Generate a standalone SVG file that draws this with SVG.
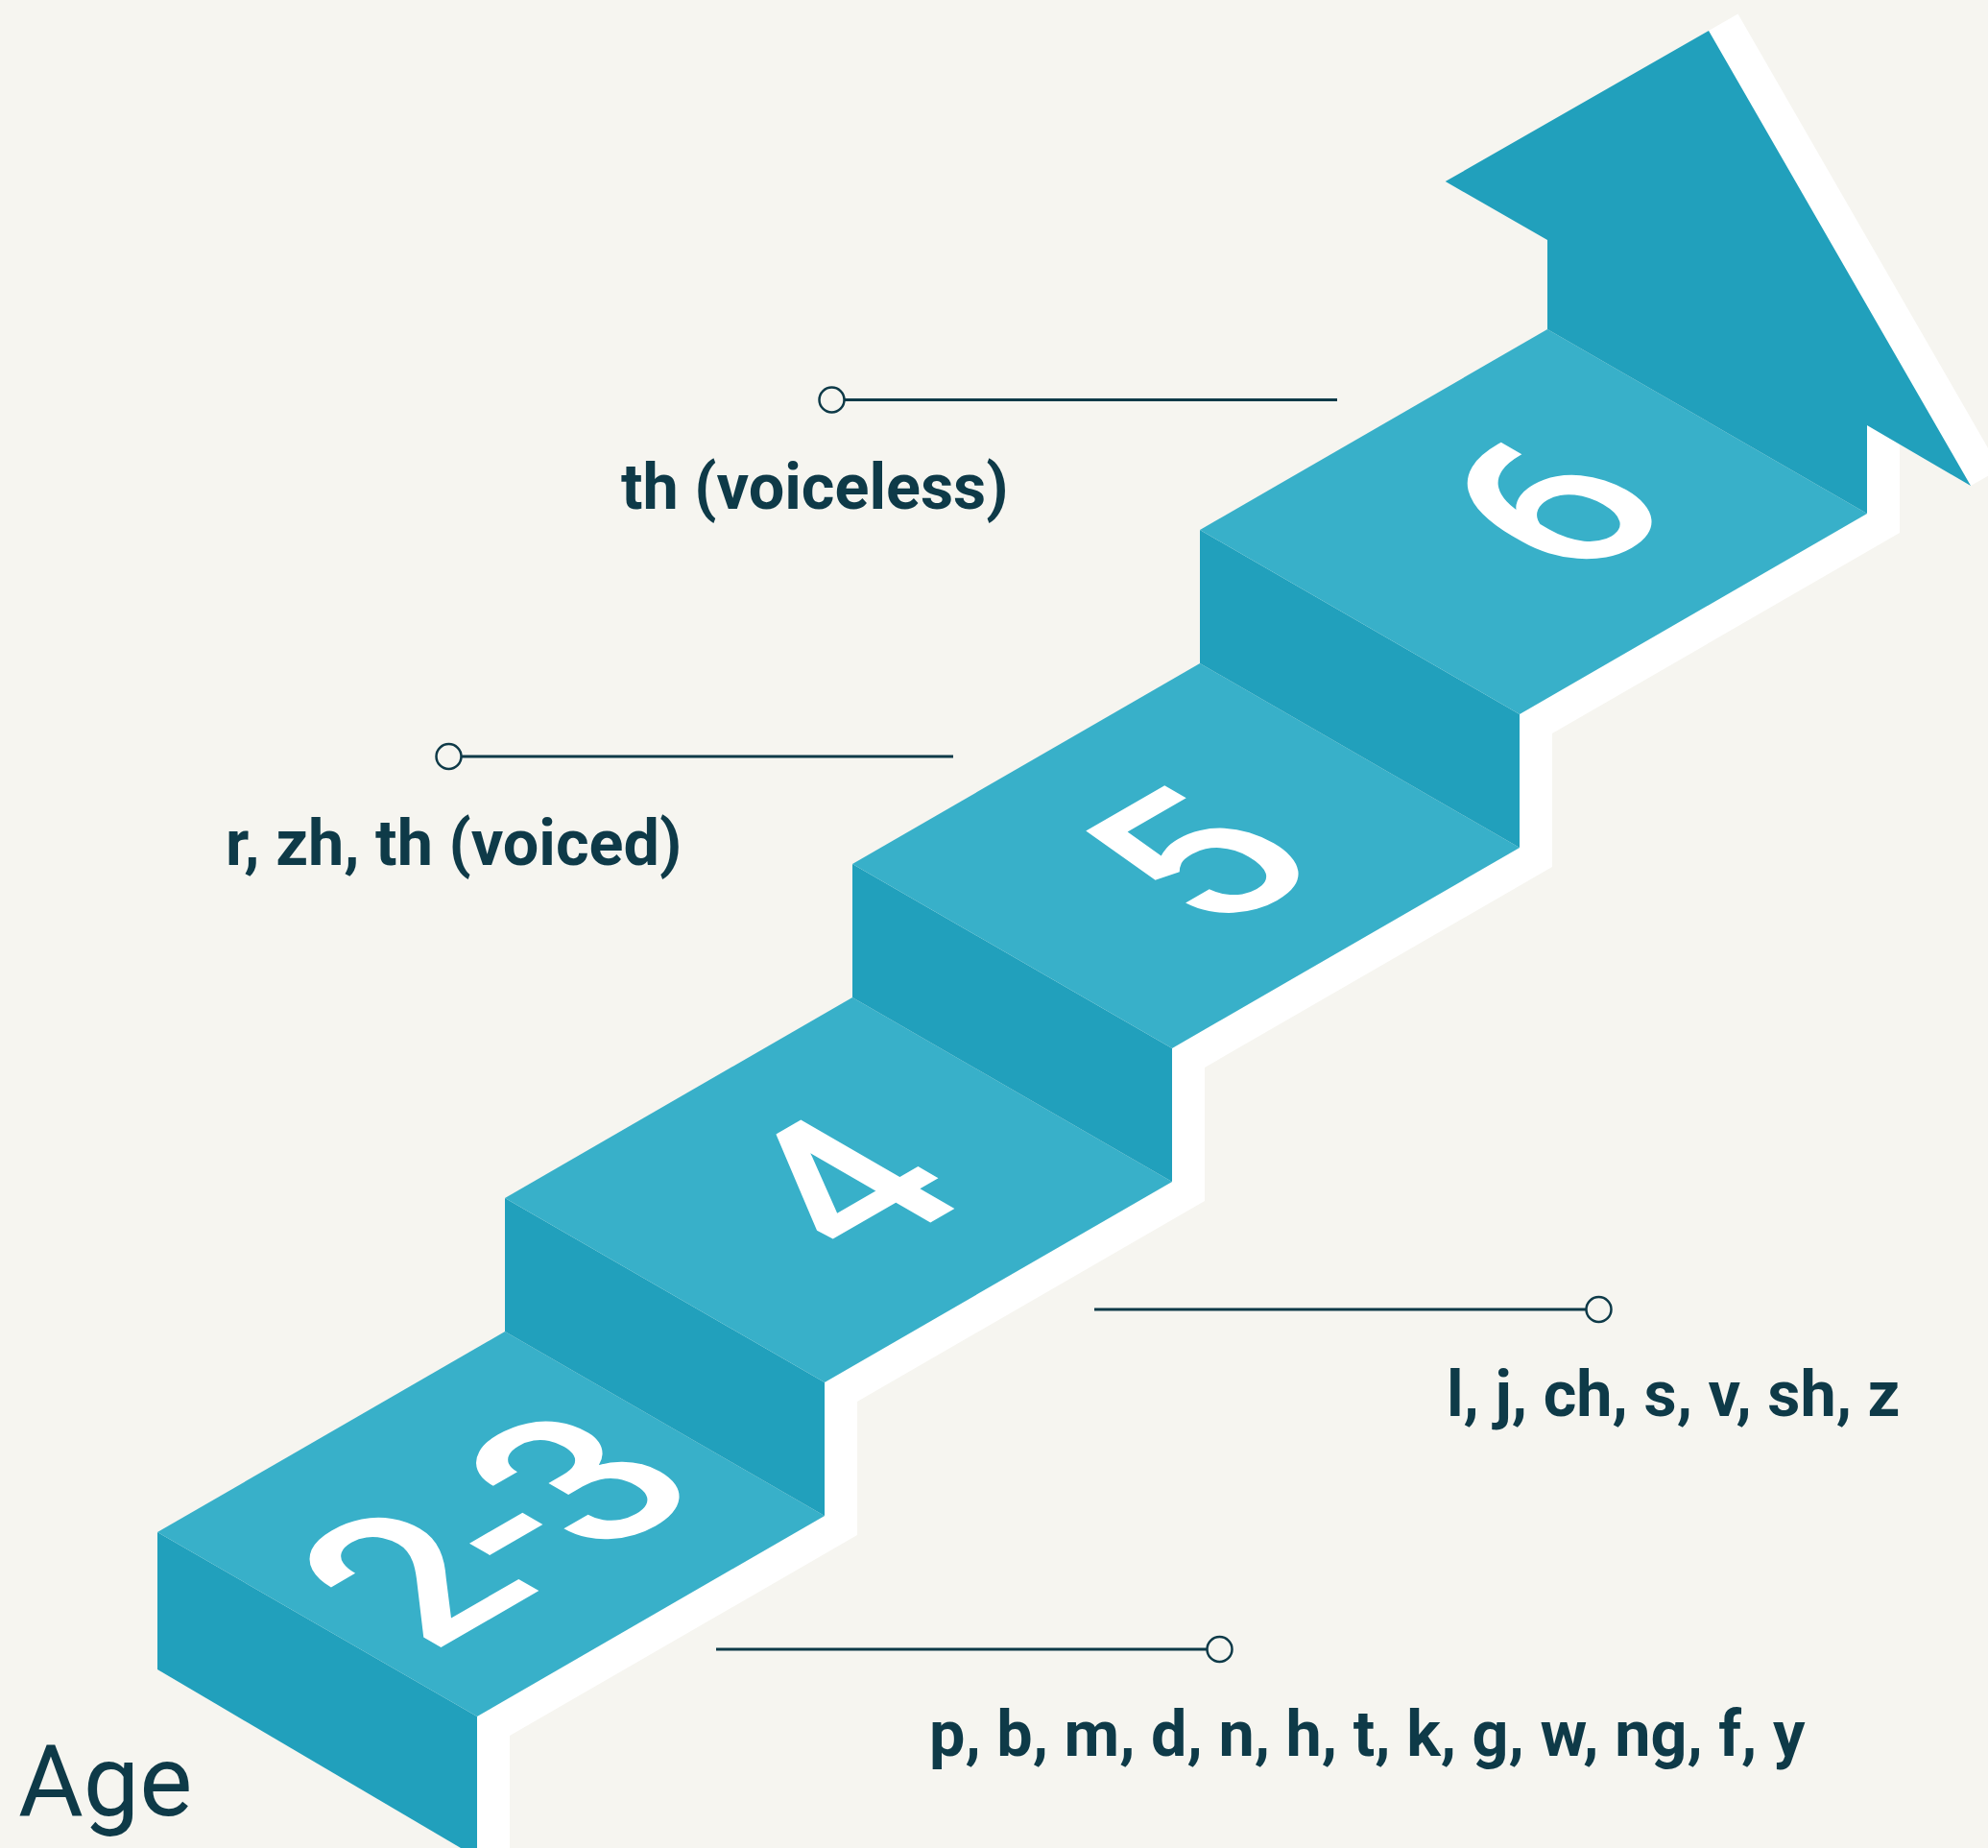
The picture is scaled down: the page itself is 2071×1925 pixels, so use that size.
<svg xmlns="http://www.w3.org/2000/svg" width="2071" height="1925" viewBox="0 0 2071 1925">
  <style>
    .top { fill: #38B0C9; }
    .riser { fill: #21A0BC; }
    .band { fill: #FFFFFF; }
    .num { fill: #FFFFFF; font-family: Roboto, "Liberation Sans", sans-serif; font-weight: 500; font-size: 260px; text-anchor: middle; }
    .label { fill: #0E3A48; font-family: Roboto, "Liberation Sans", sans-serif; font-weight: 700; font-size: 66.5px; }
    .age { fill: #0E3A48; font-family: Roboto, "Liberation Sans", sans-serif; font-weight: 400; font-size: 104px; }
    .lead { stroke: #0E3A48; stroke-width: 3; fill: none; }
    .dot { stroke: #0E3A48; stroke-width: 2.5; fill: #F6F5F0; }
  </style>
  <rect x="0" y="0" width="2071" height="1925" fill="#F6F5F0"/>

  <g id="side-band">
    <polygon class="band" points="497,1935 497,1788 859,1579 859,1440 1221,1231 1221,1092 1583,883 1583,744 1945,535 1945,443 1979,463 1979,555 1617,764 1617,903 1255,1112 1255,1251 893,1460 893,1599 531,1808 531,1955"/>
    <polygon class="band" points="1780,32 1810.5,14.5 2083.5,488.5 2053,506"/>
  </g>

  <g id="step-2-3">
    <polygon class="riser" points="164,1596 497,1788 497,1935 164,1739"/>
    <polygon class="top" points="164,1596 526,1387 859,1579 497,1788"/>
    <text class="num" letter-spacing="-12" transform="matrix(0.823,-0.475,0.866,0.5,591,1640)">2-3</text>
  </g>

  <g id="step-4">
    <polygon class="riser" points="526,1248 859,1440 859,1579 526,1387"/>
    <polygon class="top" points="526,1248 888,1039 1221,1231 859,1440"/>
    <text class="num" transform="matrix(0.823,-0.475,0.866,0.5,958,1280)">4</text>
  </g>

  <g id="step-5">
    <polygon class="riser" points="888,900 1221,1092 1221,1231 888,1039"/>
    <polygon class="top" points="888,900 1250,691 1583,883 1221,1092"/>
    <text class="num" transform="matrix(0.823,-0.475,0.866,0.5,1326,938)">5</text>
  </g>

  <g id="step-6">
    <polygon class="riser" points="1250,552 1583,744 1583,883 1250,691"/>
    <polygon class="top" points="1250,552 1612,343 1945,535 1583,744"/>
    <text class="num" transform="matrix(0.823,-0.475,0.866,0.5,1695,571)">6</text>
  </g>

  <g id="arrow">
    <polygon class="riser" points="1612,343 1612,250 1505.7,189 1780,32 2053,506 1945,443 1945,535"/>
  </g>

  <g id="connectors">
    <line class="lead" x1="879" y1="416.5" x2="1393" y2="416.5"/>
    <circle class="dot" cx="866.5" cy="416.5" r="13"/>
    <line class="lead" x1="480" y1="788" x2="993" y2="788"/>
    <circle class="dot" cx="467.5" cy="788" r="13"/>
    <line class="lead" x1="1140" y1="1364" x2="1653" y2="1364"/>
    <circle class="dot" cx="1665.5" cy="1364" r="13"/>
    <line class="lead" x1="746" y1="1718" x2="1258" y2="1718"/>
    <circle class="dot" cx="1270.5" cy="1718" r="13"/>
  </g>

  <g id="label-th-voiceless">
    <text class="label" x="647" y="530">th (voiceless)</text>
  </g>
  <g id="label-r-zh-th-voiced">
    <text class="label" x="235" y="901">r, zh, th (voiced)</text>
  </g>
  <g id="label-l-j-ch">
    <text class="label" x="1507" y="1475">l, j, ch, s, v, sh, z</text>
  </g>
  <g id="label-p-b-m">
    <text class="label" x="968" y="1829">p, b, m, d, n, h, t, k, g, w, ng, f, y</text>
  </g>
  <g id="label-age">
    <text class="age" x="19" y="1891">Age</text>
  </g>
</svg>
